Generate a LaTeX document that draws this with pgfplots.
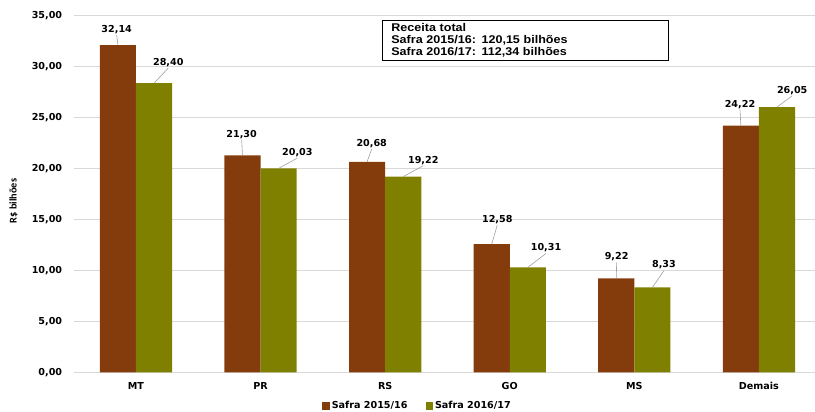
\documentclass[border=0pt]{standalone}
\usepackage{pgfplots}
\pgfplotsset{compat=1.18}
\usepackage{fontspec}
\setmainfont{DejaVu Sans}
\newfontfamily\boxfont[FakeStretch=1.12]{Liberation Sans}
\newfontfamily\labfont{Carlito}
\definecolor{cbrown}{RGB}{132,60,12}
\definecolor{colive}{RGB}{128,128,0}
\definecolor{cgrid}{RGB}{217,217,217}
\definecolor{clead}{RGB}{160,160,160}
\begin{document}
\begin{tikzpicture}
\begin{axis}[
  at={(0,0)}, anchor=south west,
  scale only axis, width=741.3pt, height=356.3pt,
  xmin=-0.5, xmax=5.45, ymin=0, ymax=35,
  ybar, bar width=0.29,
  axis line style={draw=none},
  tick style={draw=none},
  ymajorgrids, grid style={cgrid, line width=1pt},
  ytick={0,5,...,35},
  xtick={0,1,2,3,4,5},
  xticklabels={MT,PR,RS,GO,MS,Demais},
  /pgf/number format/.cd, fixed, fixed zerofill, precision=2, use comma, assume math mode=true,
  /pgfplots/.cd,
  tick label style={font=\fontsize{9.6}{11}\selectfont\bfseries},
  yticklabel style={xshift=-8pt},
  xticklabel style={yshift=-2.5pt},
  ylabel={R\$ bilhões},
  every axis y label/.style={at={(axis description cs:0,0.481)}, xshift=-60.2pt, rotate=90, anchor=center, font=\labfont\fontsize{10.3}{12}\selectfont\bfseries},
  legend style={at={(0.4638,-0.0946)}, anchor=center, draw=none, fill=none,
    font=\fontsize{9.6}{11}\selectfont\bfseries, legend columns=2,
    /tikz/every even column/.append style={column sep=16pt}},
  legend image code/.code={\fill[#1] (0pt,-3.8pt) rectangle (7.5pt,3.8pt);},
]
\addplot[fill=cbrown, draw=none, bar shift=-0.145] coordinates {(0,32.14) (1,21.30) (2,20.68) (3,12.58) (4,9.22) (5,24.22)};
\addplot[fill=colive, draw=none, bar shift=0.145] coordinates {(0,28.40) (1,20.03) (2,19.22) (3,10.31) (4,8.33) (5,26.05)};
\legend{Safra 2015/16, Safra 2016/17}

\tikzset{lbl/.style={font=\fontsize{9.6}{11}\selectfont\bfseries, inner sep=1pt}}
% brown labels
\node[lbl] (b0) at (axis cs:-0.155,33.66) {32,14};
\node[lbl] (b1) at (axis cs:0.848,23.38) {21,30};
\node[lbl] (b2) at (axis cs:1.892,22.47) {20,68};
\node[lbl] (b3) at (axis cs:2.900,15.00) {12,58};
\node[lbl] (b4) at (axis cs:3.858,11.33) {9,22};
\node[lbl] (b5) at (axis cs:4.848,26.33) {24,22};
% olive labels
\node[lbl] (o0) at (axis cs:0.259,30.42) {28,40};
\node[lbl] (o1) at (axis cs:1.295,21.58) {20,03};
\node[lbl] (o2) at (axis cs:2.306,20.83) {19,22};
\node[lbl] (o3) at (axis cs:3.291,12.21) {10,31};
\node[lbl] (o4) at (axis cs:4.238,10.54) {8,33};
\node[lbl] (o5) at (axis cs:5.267,27.70) {26,05};
\begin{scope}[clead, line width=0.6pt]
\draw (axis cs:-0.145,32.14) -- (b0.south);
\draw (axis cs:0.855,21.30) -- (b1.south);
\draw (axis cs:1.855,20.68) -- (b2.south);
\draw (axis cs:2.855,12.58) -- (b3.south);
\draw (axis cs:3.855,9.22) -- (b4.south);
\draw (axis cs:4.855,24.22) -- (b5.south);
\draw (axis cs:0.145,28.40) -- (o0.south);
\draw (axis cs:1.145,20.03) -- (o1.south);
\draw (axis cs:2.145,19.22) -- (o2.south);
\draw (axis cs:3.145,10.31) -- (o3.south);
\draw (axis cs:4.145,8.33) -- (o4.south);
\draw (axis cs:5.145,26.05) -- (o5.south);
\end{scope}
\node[draw, line width=0.8pt, anchor=north west, fill=white,
      minimum width=286.6pt, minimum height=40pt, text width=268pt, inner xsep=9pt, inner ysep=3pt, align=left,
      font=\boxfont\fontsize{11.2}{12}\selectfont\bfseries]
  at (axis cs:1.972,34.61) {Receita total\\Safra 2015/16: 120,15 bilhões\\Safra 2016/17: 112,34 bilhões};
\end{axis}
\pgfresetboundingbox
\useasboundingbox (-73.7pt,-39.7pt) rectangle (741.3pt,372.3pt);
\end{tikzpicture}
\end{document}
